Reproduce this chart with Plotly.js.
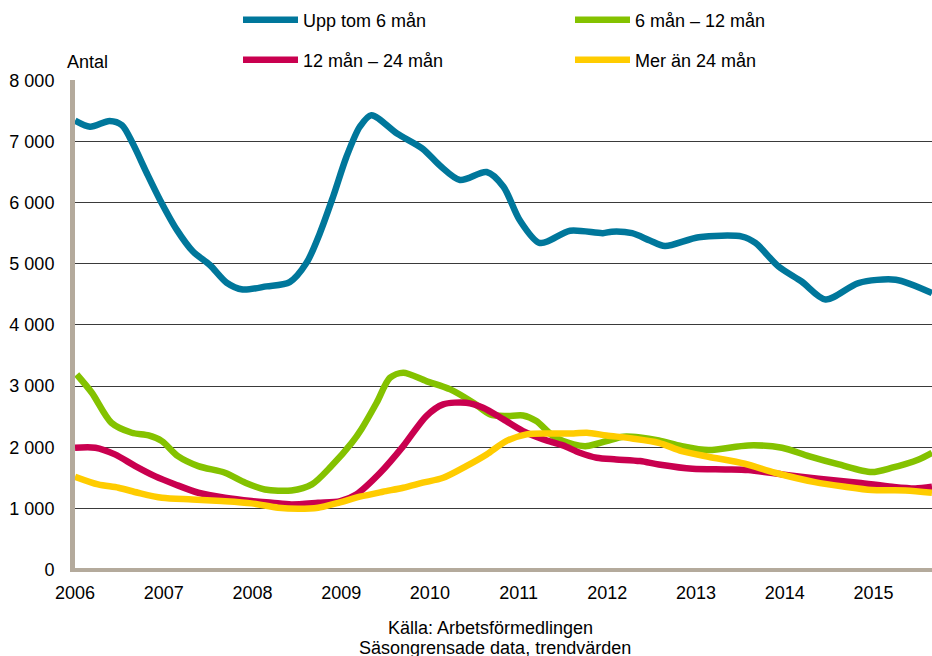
<!DOCTYPE html>
<html>
<head>
<meta charset="utf-8">
<script src="https://cdn.plot.ly/plotly-3.0.1.min.js"></script>
<style>html,body{margin:0;padding:0;background:#fff;}#chart{width:932px;height:656px;}</style>
</head>
<body>
<div id="chart"></div>
<script>
// Series names
const seriesNames = ['Upp tom 6 mån', '6 mån – 12 mån', '12 mån – 24 mån', 'Mer än 24 mån'];

// Upp tom 6 mån
const xUpp = [2006.00, 2006.17, 2006.39, 2006.53, 2006.65, 2006.81, 2006.96, 2007.15, 2007.33, 2007.52, 2007.71, 2007.89, 2008.16, 2008.42, 2008.61, 2008.76, 2008.91, 2009.06, 2009.21, 2009.34, 2009.63, 2009.92, 2010.11, 2010.34, 2010.64, 2010.83, 2011.01, 2011.24, 2011.58, 2011.95, 2012.05, 2012.28, 2012.48, 2012.65, 2013.03, 2013.52, 2013.67, 2013.93, 2014.19, 2014.46, 2014.83, 2015.25, 2015.66];
const yUpp = [7340, 7240, 7335, 7265, 6970, 6480, 6040, 5550, 5200, 4980, 4690, 4580, 4630, 4700, 5015, 5500, 6100, 6750, 7240, 7430, 7130, 6880, 6610, 6370, 6500, 6260, 5720, 5340, 5540, 5500, 5525, 5500, 5380, 5290, 5435, 5445, 5340, 4955, 4710, 4415, 4685, 4740, 4520];

// 6 mån – 12 mån
const x6_12 = [2006.02, 2006.19, 2006.41, 2006.64, 2006.83, 2006.98, 2007.16, 2007.39, 2007.69, 2007.92, 2008.14, 2008.44, 2008.67, 2008.89, 2009.12, 2009.23, 2009.40, 2009.55, 2009.70, 2009.96, 2010.23, 2010.49, 2010.68, 2010.86, 2011.05, 2011.20, 2011.39, 2011.62, 2011.77, 2011.99, 2012.18, 2012.37, 2012.58, 2012.84, 2013.14, 2013.59, 2013.97, 2014.27, 2014.61, 2014.98, 2015.21, 2015.51, 2015.66];
const y6_12 = [3190, 2891, 2400, 2237, 2193, 2100, 1855, 1692, 1583, 1420, 1310, 1294, 1392, 1692, 2073, 2300, 2728, 3136, 3218, 3082, 2946, 2728, 2537, 2510, 2520, 2428, 2183, 2046, 2019, 2100, 2172, 2160, 2112, 2019, 1954, 2030, 1992, 1855, 1719, 1594, 1665, 1801, 1910];

// 12 mån – 24 mån
const x12_24 = [2006.00, 2006.23, 2006.45, 2006.68, 2006.90, 2007.13, 2007.39, 2007.69, 2007.99, 2008.22, 2008.44, 2008.74, 2008.99, 2009.17, 2009.44, 2009.70, 2009.96, 2010.15, 2010.41, 2010.60, 2010.83, 2011.05, 2011.28, 2011.50, 2011.69, 2011.88, 2012.10, 2012.37, 2012.58, 2012.96, 2013.33, 2013.59, 2013.97, 2014.38, 2014.83, 2015.21, 2015.47, 2015.66];
const y12_24 = [1992, 1992, 1883, 1692, 1528, 1392, 1256, 1174, 1120, 1092, 1065, 1092, 1120, 1229, 1583, 2019, 2510, 2700, 2728, 2646, 2455, 2264, 2128, 2030, 1910, 1828, 1801, 1774, 1719, 1648, 1638, 1627, 1556, 1485, 1420, 1354, 1327, 1354];

// Mer än 24 mån
const xMer = [2006.00, 2006.26, 2006.49, 2006.71, 2006.98, 2007.32, 2007.65, 2007.99, 2008.29, 2008.52, 2008.74, 2008.97, 2009.21, 2009.47, 2009.70, 2009.92, 2010.15, 2010.41, 2010.64, 2010.86, 2011.09, 2011.32, 2011.62, 2011.77, 2011.99, 2012.28, 2012.58, 2012.84, 2013.14, 2013.55, 2013.89, 2014.34, 2014.68, 2014.98, 2015.36, 2015.66];
const yMer = [1518, 1392, 1338, 1256, 1174, 1147, 1120, 1082, 1011, 994, 1011, 1092, 1191, 1272, 1338, 1420, 1501, 1692, 1883, 2101, 2210, 2226, 2226, 2237, 2193, 2144, 2073, 1937, 1845, 1730, 1583, 1430, 1354, 1300, 1294, 1256];

// Axis tick labels
const yearTicks = [2006, 2007, 2008, 2009, 2010, 2011, 2012, 2013, 2014, 2015];
const yearLabels = ['2006', '2007', '2008', '2009', '2010', '2011', '2012', '2013', '2014', '2015'];

const colors = ['#00779b', '#84c200', '#c9004f', '#ffcc00'];
const xs = [xUpp, x6_12, x12_24, xMer];
const ys = [yUpp, y6_12, y12_24, yMer];
const legendIds = ['legend', 'legend', 'legend2', 'legend2'];

const traces = seriesNames.map((name, i) => ({
  type: 'scatter',
  mode: 'lines',
  name: name,
  x: xs[i],
  y: ys[i],
  legend: legendIds[i],
  line: {color: colors[i], width: 6.5, shape: 'spline', smoothing: 0.8},
  hoverinfo: 'skip'
}));

const FONT = '"Liberation Sans", Arial, Helvetica, sans-serif';
const axisGrey = '#b4aa9c';

const layout = {
  width: 932,
  height: 656,
  margin: {l: 75, r: 0, t: 80, b: 84, pad: 0},
  paper_bgcolor: '#ffffff',
  plot_bgcolor: '#ffffff',
  font: {family: FONT, size: 18, color: '#000000'},
  separators: ', ',
  showlegend: true,
  xaxis: {
    range: [2006, 2015.66],
    tickvals: yearTicks,
    ticktext: yearLabels,
    showgrid: false,
    zeroline: false,
    showline: false,
    ticks: '',
    ticklabelstandoff: 8,
    tickfont: {family: FONT, size: 18, color: '#000'},
    fixedrange: true
  },
  yaxis: {
    range: [-40, 8005],
    tick0: 0,
    dtick: 1000,
    tickformat: ',d',
    showgrid: true,
    gridcolor: '#3a3a3a',
    gridwidth: 1,
    zeroline: true,
    zerolinecolor: axisGrey,
    zerolinewidth: 4,
    showline: true,
    linecolor: axisGrey,
    linewidth: 5,
    ticks: '',
    ticklabelstandoff: 12,
    tickfont: {family: FONT, size: 18, color: '#000'},
    fixedrange: true
  },
  legend: {
    orientation: 'h',
    xref: 'container', yref: 'container',
    x: 238 / 932, y: 1 - 20 / 656,
    xanchor: 'left', yanchor: 'middle',
    bgcolor: 'rgba(0,0,0,0)',
    font: {family: FONT, size: 18, color: '#000'},
    itemwidth: 55,
    entrywidth: 262,
    entrywidthmode: 'pixels'
  },
  legend2: {
    orientation: 'h',
    xref: 'container', yref: 'container',
    x: 238 / 932, y: 1 - 60 / 656,
    xanchor: 'left', yanchor: 'middle',
    bgcolor: 'rgba(0,0,0,0)',
    font: {family: FONT, size: 18, color: '#000'},
    itemwidth: 55,
    entrywidth: 262,
    entrywidthmode: 'pixels'
  },
  annotations: [
    {text: 'Antal', xref: 'paper', yref: 'paper', x: -10 / 857, y: 1, xanchor: 'left', yanchor: 'bottom',
     yshift: 6, showarrow: false, font: {family: FONT, size: 18, color: '#000'}},
    {text: 'Källa: Arbetsförmedlingen', xref: 'paper', yref: 'paper', x: (490 - 75) / 857, y: 0,
     xanchor: 'center', yanchor: 'middle', yshift: -56, showarrow: false, font: {family: FONT, size: 18, color: '#000'}},
    {text: 'Säsongrensade data, trendvärden', xref: 'paper', yref: 'paper', x: (495 - 75) / 857, y: 0,
     xanchor: 'center', yanchor: 'middle', yshift: -76, showarrow: false, font: {family: FONT, size: 18, color: '#000'}}
  ]
};

Plotly.newPlot('chart', traces, layout, {displayModeBar: false, staticPlot: true});
</script>
</body>
</html>
